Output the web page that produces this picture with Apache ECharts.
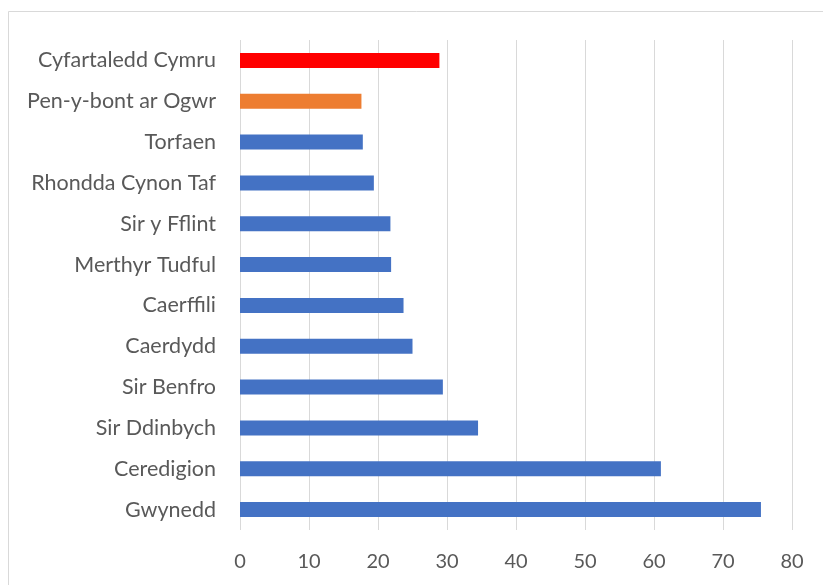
<!DOCTYPE html>
<html>
<head>
<meta charset="utf-8">
<script src="https://cdn.jsdelivr.net/npm/echarts@6/dist/echarts.min.js"></script>
<style>html,body{margin:0;padding:0;background:#fff;}#c{width:823px;height:585px;}</style>
</head>
<body>
<div id="c"></div>
<script>
const categories = ['Gwynedd','Ceredigion','Sir Ddinbych','Sir Benfro','Caerdydd','Caerffili','Merthyr Tudful','Sir y Fflint','Rhondda Cynon Taf','Torfaen','Pen-y-bont ar Ogwr','Cyfartaledd Cymru'];
const values = [75.5, 61.0, 34.5, 29.4, 25.0, 23.7, 21.9, 21.8, 19.4, 17.8, 17.6, 28.9];
const barColors = ['#4472C4','#4472C4','#4472C4','#4472C4','#4472C4','#4472C4','#4472C4','#4472C4','#4472C4','#4472C4','#ED7D31','#FF0000'];
const xTicks = {min: 0, max: 80, interval: 10};

const chart = echarts.init(document.getElementById('c'), null, {renderer: 'canvas'});
chart.setOption({
  animation: false,
  backgroundColor: '#fff',
  graphic: [{
    type: 'rect', shape: {x: 8.5, y: 11.5, width: 830, height: 590},
    style: {fill: 'none', stroke: '#d9d9d9', lineWidth: 1}, silent: true
  }],
  grid: {left: 240, right: 31, top: 40, bottom: 55, containLabel: false},
  xAxis: {
    type: 'value', min: xTicks.min, max: xTicks.max, interval: xTicks.interval,
    axisLine: {show: false}, axisTick: {show: false},
    splitLine: {show: true, lineStyle: {color: '#d9d9d9', width: 1}},
    axisLabel: {color: '#595959', fontSize: 20, fontFamily: 'Lato', margin: 22}
  },
  yAxis: {
    type: 'category', data: categories,
    axisLine: {show: false}, axisTick: {show: false},
    axisLabel: {color: '#595959', fontSize: 21.5, fontFamily: 'Lato', margin: 24}
  },
  series: [{
    type: 'bar', barWidth: 15,
    data: values.map((v, i) => ({value: v, itemStyle: {color: barColors[i]}}))
  }]
});
</script>
</body>
</html>
